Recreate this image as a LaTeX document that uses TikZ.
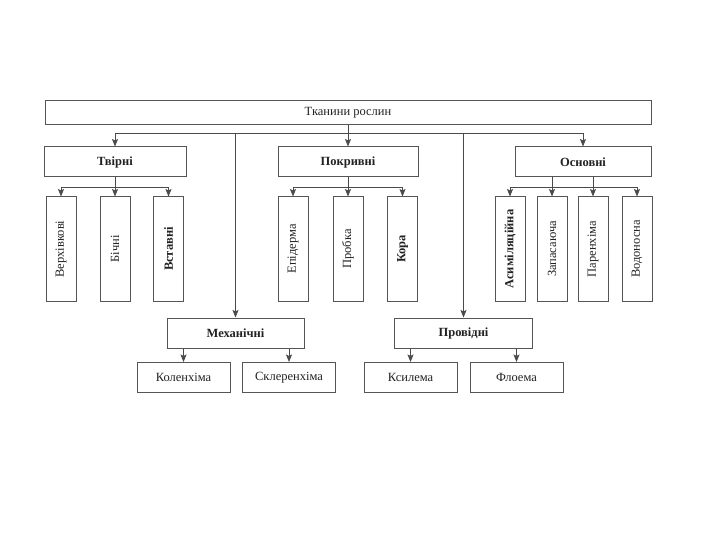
\documentclass[tikz,border=0pt]{standalone}
\usepackage{fontspec}
\setmainfont{Liberation Serif}
\usetikzlibrary{arrows.meta}
\definecolor{boxc}{HTML}{555555}
\definecolor{linec}{HTML}{4A4A4A}
\definecolor{txtc}{HTML}{222222}
\newcommand{\fsz}{\fontsize{12.5}{14}\selectfont}
\tikzset{
  box/.style={draw=boxc, line width=1pt, fill=white, inner sep=0pt, text=txtc, font=\fsz},
  bld/.style={font=\fsz\bfseries},
  wide/.style={box, minimum height=30pt},
  tall/.style={box, minimum width=30pt, minimum height=104pt},
  arr/.style={draw=linec, line width=0.75pt, -{Stealth[length=7.5pt,width=6pt,inset=1.5pt]}},
}
\begin{document}
\begin{tikzpicture}[x=1pt,y=-1pt]
\useasboundingbox (0,0) rectangle (720,540);
% top
\node[box, minimum width=606pt, minimum height=24pt] (top) at (348,112.5) {Тканини рослин};
% level 2
\node[wide, bld, minimum width=142pt] (tvir) at (115,162) {Твірні};
\node[wide, bld, minimum width=140pt] (pokr) at (348,162) {Покривні};
\node[wide, bld, minimum width=136pt] (osn) at (583,162) {Основні};
% children of Твірні
\node[tall] (verh) at (61,249) {\rotatebox{90}{Верхівкові}};
\node[tall] (bich) at (115,249) {\rotatebox{90}{Бічні}};
\node[tall, bld] (vst) at (168.5,249) {\rotatebox{90}{Вставні}};
% children of Покривні
\node[tall] (epid) at (293,249) {\rotatebox{90}{Епідерма}};
\node[tall] (prob) at (348,249) {\rotatebox{90}{Пробка}};
\node[tall, bld] (kora) at (402.5,249) {\rotatebox{90}{Кора}};
% children of Основні
\node[tall, bld] (asym) at (510,249) {\rotatebox{90}{Асиміляційна}};
\node[tall] (zap) at (552,249) {\rotatebox{90}{Запасаюча}};
\node[tall] (par) at (593,249) {\rotatebox{90}{Паренхіма}};
\node[tall] (vod) at (637,249) {\rotatebox{90}{Водоносна}};
% lower
\node[wide, bld, minimum width=137pt] (mech) at (235.5,333) {Механічні};
\node[wide, bld, minimum width=138pt] (prov) at (463.5,333) {Провідні};
\node[wide, minimum width=93pt] (kol) at (183.5,377.5) {Коленхіма};
\node[wide, minimum width=93pt] (skl) at (289,377.5) {Склеренхіма};
\node[wide, minimum width=93pt] (ksil) at (410.5,377.5) {Ксилема};
\node[wide, minimum width=93pt] (floe) at (516.5,377.5) {Флоема};
% connectors level 1
\coordinate (hub) at (348,133);
\draw[arr] (top.south) -- (pokr.north);
\draw[arr] (hub) -| (tvir.north);
\draw[arr] (hub) -| (osn.north);
\draw[arr] (mech.north |- hub) -- (mech.north);
\draw[arr] (prov.north |- hub) -- (prov.north);
% Твірні
\coordinate (ht) at (115,187);
\draw[arr] (tvir.south) -- (bich.north);
\draw[arr] (ht) -| (verh.north);
\draw[arr] (ht) -| (vst.north);
% Покривні
\coordinate (hp) at (348,187);
\draw[arr] (pokr.south) -- (prob.north);
\draw[arr] (hp) -| (epid.north);
\draw[arr] (hp) -| (kora.north);
% Основні
\coordinate (ho) at (572,187);
\draw[arr] (zap.north |- osn.south) -- (zap.north);
\draw[arr] (par.north |- osn.south) -- (par.north);
\draw[arr] (ho) -| (asym.north);
\draw[arr] (ho) -| (vod.north);
% lower
\draw[arr] (kol.north |- mech.south) -- (kol.north);
\draw[arr] (skl.north |- mech.south) -- (skl.north);
\draw[arr] (ksil.north |- prov.south) -- (ksil.north);
\draw[arr] (floe.north |- prov.south) -- (floe.north);
\end{tikzpicture}
\end{document}
